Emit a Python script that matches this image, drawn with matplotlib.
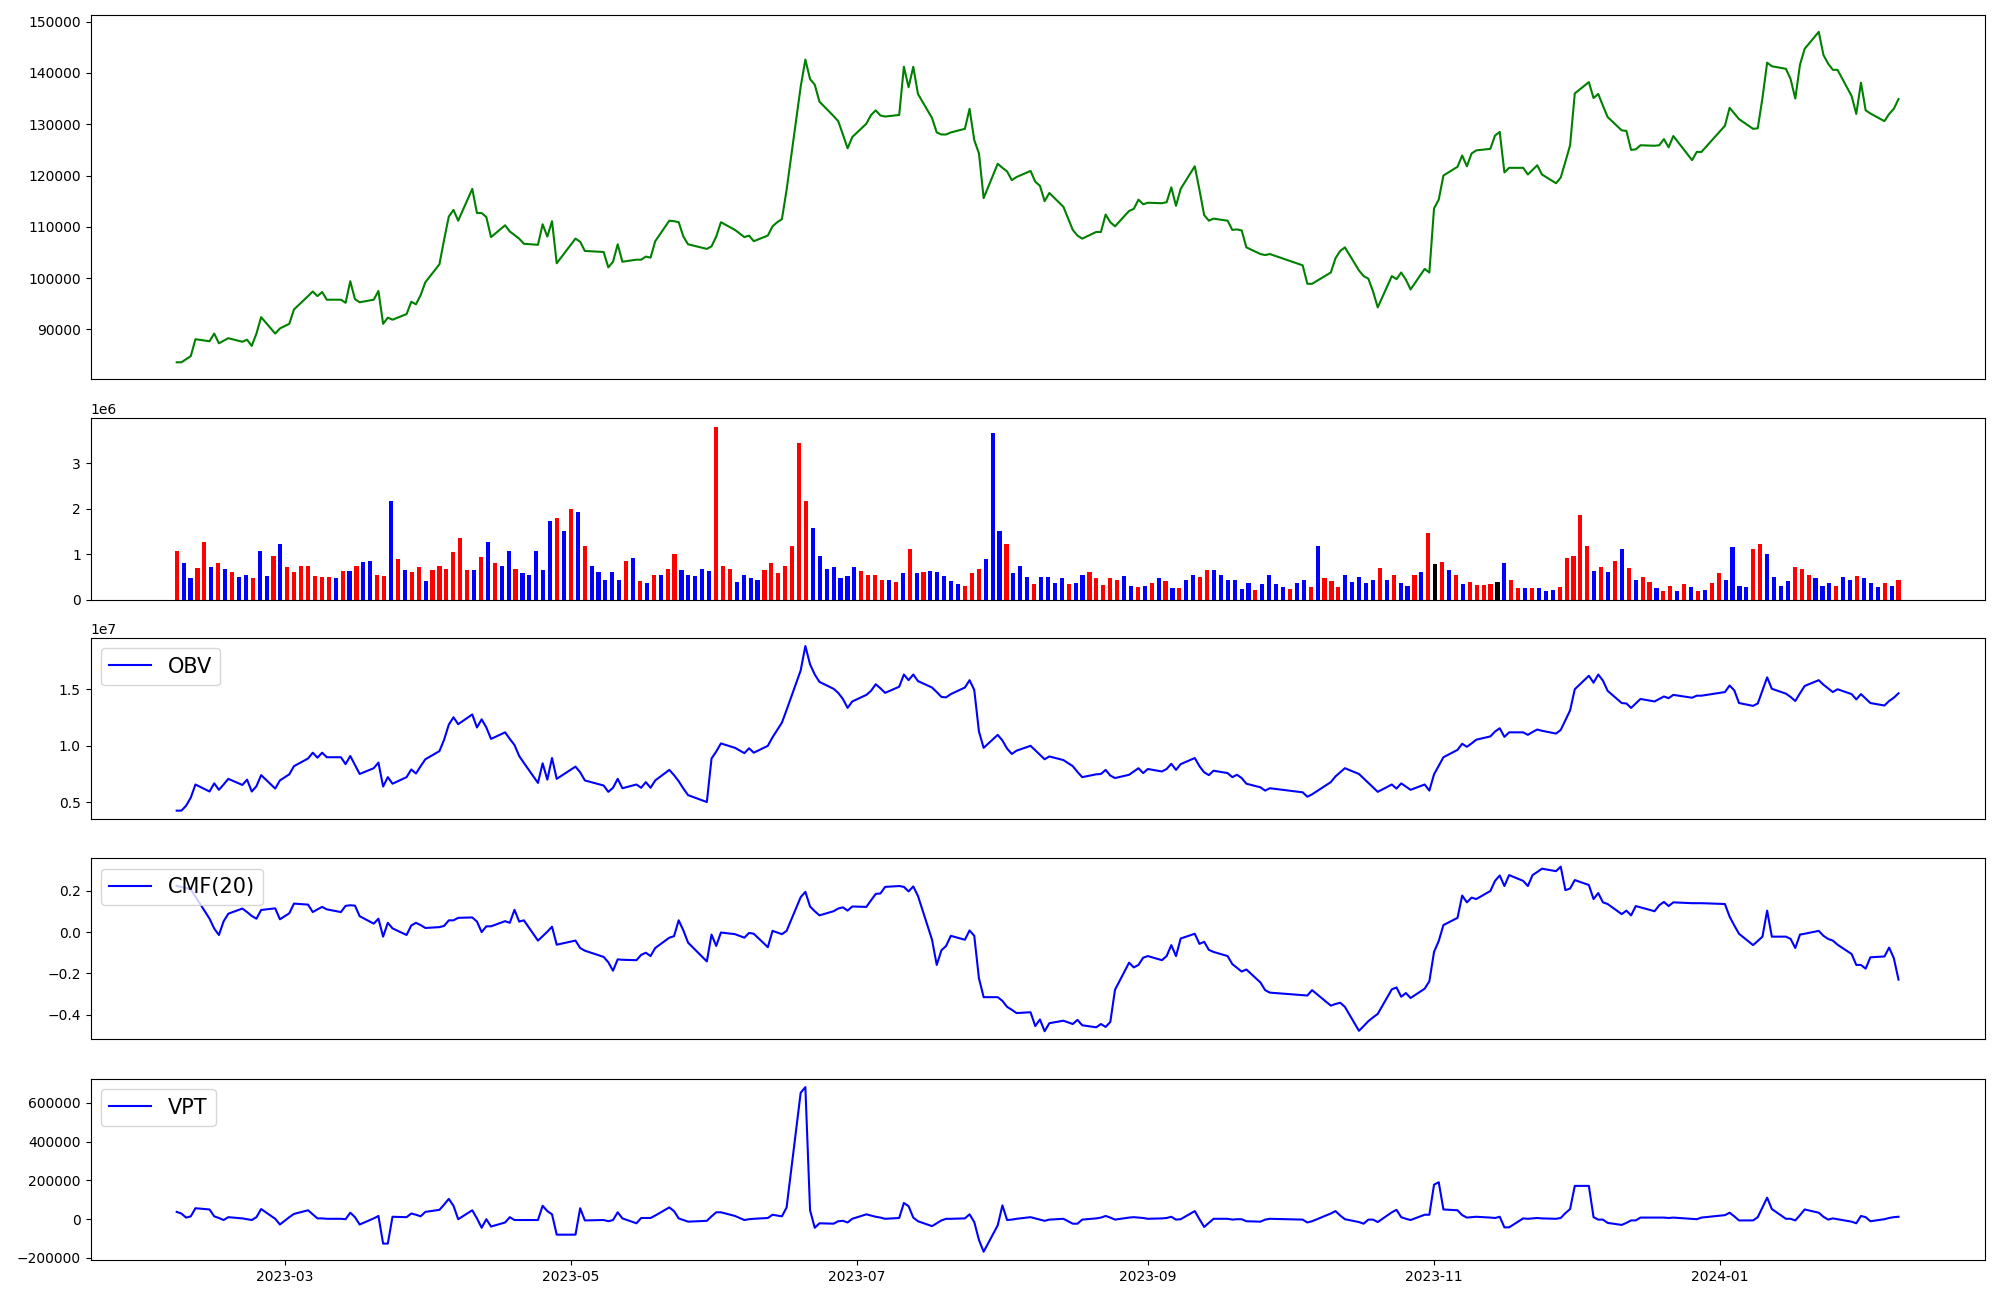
import numpy as np
import pandas as pd
import matplotlib
matplotlib.use("Agg")
import matplotlib.pyplot as plt
import matplotlib.dates as mdates

# ---------------- data ----------------
start_date = "2023-02-06"
end_date = "2024-02-08"
market_holidays = ["2023-03-01", "2023-05-01", "2023-05-05", "2023-05-29", "2023-06-06",
                   "2023-08-15", "2023-09-28", "2023-09-29", "2023-10-02", "2023-10-03",
                   "2023-10-09", "2023-12-25", "2023-12-29", "2024-01-01"]

close = [
    83600, 83600, 84200, 84800, 88100,
    87700, 89200, 87300, 87800, 88300,
    87600, 88000, 86800, 89200, 92400,
    89200, 90200, 91100, 93900,
    96500, 97400, 96500, 97300, 95800,
    95800, 95200, 99400, 95900, 95300,
    95800, 97500, 91100, 92300, 91900,
    93000, 95400, 94900, 96700, 99200,
    102700, 107500, 112000, 113300, 111200,
    117400, 112700, 112700, 111900, 108000,
    110300, 109100, 108400, 107700, 106700,
    106500, 110500, 108100, 111100, 102900,
    107700, 107100, 105300,
    105100, 102100, 103200, 106600, 103200,
    103600, 103600, 104200, 104000, 107200,
    111200, 111100, 110900, 108100, 106600,
    105700, 106200, 108100, 110900,
    109400, 108000, 108300, 107200,
    108300, 110100, 110900, 111500, 117200,
    137300, 142600, 138800, 137700, 134400,
    131600, 130600, 128000, 125300, 127500,
    130100, 131800, 132700, 131700, 131500,
    131800, 141200, 137200, 141200, 135900,
    131200, 128400, 128000, 128000, 128400,
    129100, 133000, 126900, 124300, 115600,
    122300, 121500, 120800, 119100, 119700,
    120900, 118800, 118000, 115000, 116600,
    113900, 109400, 108300, 107700,
    109000, 109000, 112400, 110900, 110100,
    113100, 113500, 115300, 114400, 114700,
    114600, 114800, 117700, 114100, 117400,
    121800, 117200, 112300, 111200, 111600,
    111200, 109400, 109500, 109300, 106000,
    104700, 104500, 104700,
    102500, 98900, 98900,
    101100, 103900, 105300, 106000,
    101500, 100400, 99900, 97400, 94300,
    100400, 99800, 101100, 99700, 97800,
    101800, 101100, 113600, 115300, 120000,
    121700, 123900, 121800, 124300, 124900,
    125200, 127800, 128500, 120600, 121500,
    121500, 120200, 121100, 122000, 120200,
    118500, 119600, 122700, 125900, 136000,
    138200, 135100, 135900, 133600, 131400,
    128800, 128700, 125000, 125100, 125900,
    125800, 125900, 127100, 125500, 127700,
    123000, 124600, 124600,
    129700, 133200, 132100, 131000,
    129100, 129200, 135100, 142000, 141300,
    140800, 138800, 135000, 141600, 144700,
    148000, 143500, 141800, 140600, 140600,
    135500, 132000, 138100, 132700, 132100,
    130600, 132000, 133000, 134900,
]

# volume in millions of shares
volume_m = [
    1.08, 0.80, 0.47, 0.69, 1.26, 0.71, 0.80, 0.67, 0.60, 0.49,
    0.55, 0.47, 1.08, 0.51, 0.97, 1.23, 0.71, 0.60, 0.75, 0.75,
    0.51, 0.49, 0.49, 0.47, 0.62, 0.62, 0.75, 0.82, 0.84, 0.55,
    0.51, 2.18, 0.89, 0.65, 0.60, 0.71, 0.40, 0.65, 0.75, 0.67,
    1.04, 1.35, 0.65, 0.65, 0.93, 1.26, 0.80, 0.73, 1.06, 0.67,
    0.58, 0.55, 1.06, 0.65, 1.74, 1.79, 1.52, 2.00, 1.94, 1.19,
    0.75, 0.60, 0.44, 0.60, 0.44, 0.84, 0.91, 0.40, 0.36, 0.54,
    0.55, 0.67, 1.01, 0.65, 0.54, 0.51, 0.67, 0.62, 3.80, 0.75,
    0.67, 0.39, 0.54, 0.47, 0.44, 0.65, 0.80, 0.58, 0.73, 1.17,
    3.45, 2.18, 1.58, 0.97, 0.67, 0.71, 0.47, 0.51, 0.71, 0.62,
    0.55, 0.54, 0.44, 0.43, 0.39, 0.58, 1.12, 0.58, 0.60, 0.62,
    0.60, 0.51, 0.40, 0.34, 0.29, 0.58, 0.67, 0.89, 3.67, 1.50,
    1.23, 0.58, 0.75, 0.49, 0.34, 0.49, 0.49, 0.36, 0.47, 0.34,
    0.36, 0.54, 0.60, 0.47, 0.32, 0.47, 0.44, 0.51, 0.29, 0.27,
    0.29, 0.36, 0.47, 0.40, 0.25, 0.25, 0.44, 0.54, 0.49, 0.65,
    0.65, 0.55, 0.44, 0.44, 0.23, 0.36, 0.21, 0.34, 0.54, 0.34,
    0.27, 0.23, 0.36, 0.44, 0.27, 1.19, 0.47, 0.40, 0.27, 0.55,
    0.39, 0.49, 0.36, 0.43, 0.69, 0.43, 0.55, 0.36, 0.29, 0.55,
    0.60, 1.46, 0.78, 0.82, 0.65, 0.55, 0.34, 0.39, 0.32, 0.32,
    0.34, 0.39, 0.80, 0.44, 0.25, 0.25, 0.25, 0.25, 0.18, 0.21,
    0.27, 0.91, 0.95, 1.87, 1.17, 0.62, 0.71, 0.60, 0.86, 1.12,
    0.69, 0.43, 0.49, 0.39, 0.25, 0.18, 0.29, 0.18, 0.34, 0.27,
    0.18, 0.21, 0.36, 0.58, 0.44, 1.15, 0.29, 0.27, 1.11, 1.22,
    1.01, 0.49, 0.29, 0.40, 0.71, 0.67, 0.55, 0.47, 0.29, 0.36,
    0.29, 0.49, 0.44, 0.51, 0.47, 0.36, 0.27, 0.36, 0.29, 0.43,
]

# u = up day (red), d = down day (blue), n = unchanged (black)
bar_direction = (
    "udduududud" "dudduduuuu" "uuudududdu" "ududuuduuu" "uuudududdu"
    "dddddududu" "dddddududu" "duuddddduu" "udddduuuuu" "uudddddddu"
    "uuudududud" "dddduuuddd" "uddduddddu" "dduuuuuddu" "dudududduu"
    "dddddduddd" "dudduduuud" "ddddududdu" "dunududuuu" "unduududdd"
    "uuuuududud" "uduuduudud" "uduudddduu" "dddduuuddd" "uddudddudu"
)

obv_e7 = [
    0.426, 0.426, 0.469, 0.541, 0.657,
    0.595, 0.667, 0.610, 0.657, 0.707,
    0.653, 0.700, 0.595, 0.642, 0.740,
    0.621, 0.693, 0.747, 0.819,
    0.887, 0.938, 0.894, 0.938, 0.898,
    0.898, 0.837, 0.909, 0.830, 0.750,
    0.801, 0.851, 0.639, 0.722, 0.664,
    0.722, 0.790, 0.754, 0.819, 0.880,
    0.952, 1.053, 1.186, 1.251, 1.190,
    1.276, 1.161, 1.233, 1.161, 1.060,
    1.118, 1.060, 1.006, 0.909, 0.848,
    0.671, 0.844, 0.700, 0.891, 0.707,
    0.815, 0.765, 0.693,
    0.648, 0.592, 0.628, 0.707, 0.624,
    0.657, 0.628, 0.678, 0.628, 0.693,
    0.786, 0.740, 0.686, 0.621, 0.563,
    0.502, 0.887, 0.948, 1.020,
    0.981, 0.934, 0.977, 0.938,
    0.999, 1.074, 1.139, 1.204, 1.316,
    1.665, 1.881, 1.719, 1.629, 1.564,
    1.503, 1.467, 1.413, 1.334, 1.391,
    1.449, 1.485, 1.543, 1.507, 1.467,
    1.521, 1.629, 1.579, 1.629, 1.571,
    1.514, 1.474, 1.431, 1.427, 1.456,
    1.514, 1.579, 1.492, 1.125, 0.981,
    1.096, 1.046, 0.974, 0.927, 0.956,
    0.999, 0.959, 0.920, 0.880, 0.905,
    0.873, 0.819, 0.768, 0.722,
    0.747, 0.750, 0.786, 0.736, 0.714,
    0.743, 0.772, 0.801, 0.758, 0.794,
    0.772, 0.794, 0.840, 0.786, 0.837,
    0.891, 0.819, 0.765, 0.740, 0.779,
    0.758, 0.722, 0.743, 0.714, 0.664,
    0.632, 0.603, 0.624,
    0.588, 0.549, 0.570,
    0.678, 0.729, 0.765, 0.801,
    0.750, 0.711, 0.671, 0.632, 0.592,
    0.657, 0.621, 0.667, 0.639, 0.610,
    0.657, 0.603, 0.747, 0.822, 0.898,
    0.963, 1.017, 0.990, 1.020, 1.053,
    1.082, 1.125, 1.154, 1.078, 1.118,
    1.118, 1.096, 1.121, 1.143, 1.132,
    1.107, 1.139, 1.226, 1.312, 1.499,
    1.618, 1.557, 1.629, 1.575, 1.485,
    1.377, 1.373, 1.334, 1.373, 1.413,
    1.391, 1.413, 1.435, 1.420, 1.449,
    1.424, 1.442, 1.442,
    1.474, 1.532, 1.489, 1.377,
    1.352, 1.373, 1.489, 1.604, 1.503,
    1.460, 1.431, 1.395, 1.463, 1.528,
    1.579, 1.539, 1.507, 1.474, 1.499,
    1.456, 1.409, 1.456, 1.417, 1.377,
    1.355, 1.395, 1.424, 1.463,
]

cmf20 = [
    0.224, 0.218, 0.213, 0.207, 0.172,
    0.065, 0.017, -0.014, 0.052, 0.089,
    0.114, 0.097, 0.078, 0.065, 0.107,
    0.115, 0.062, 0.091, 0.138,
    0.133, 0.097, 0.110, 0.122, 0.110,
    0.097, 0.127, 0.130, 0.128, 0.077,
    0.041, 0.065, -0.022, 0.045, 0.018,
    -0.014, 0.032, 0.045, 0.034, 0.020,
    0.024, 0.030, 0.057, 0.057, 0.069,
    0.071, 0.051, 0.000, 0.028, 0.028,
    0.053, 0.045, 0.108, 0.051, 0.057,
    -0.041, -0.020, 0.002, 0.026, -0.061,
    -0.041, -0.077, -0.090,
    -0.120, -0.146, -0.187, -0.132, -0.134,
    -0.136, -0.110, -0.100, -0.116, -0.077,
    -0.027, -0.020, 0.057, 0.008, -0.051,
    -0.142, -0.012, -0.067, -0.002,
    -0.010, -0.027, -0.004, -0.008,
    -0.073, 0.006, -0.002, -0.010, 0.006,
    0.169, 0.195, 0.124, 0.101, 0.081,
    0.101, 0.114, 0.120, 0.104, 0.124,
    0.122, 0.154, 0.185, 0.187, 0.219,
    0.223, 0.219, 0.197, 0.221, 0.175,
    -0.037, -0.159, -0.088, -0.067, -0.018,
    -0.037, 0.008, -0.018, -0.224, -0.315,
    -0.315, -0.333, -0.362, -0.376, -0.392,
    -0.388, -0.455, -0.423, -0.480, -0.441,
    -0.429, -0.445, -0.425, -0.451,
    -0.461, -0.445, -0.459, -0.435, -0.279,
    -0.148, -0.171, -0.159, -0.124, -0.116,
    -0.136, -0.116, -0.063, -0.116, -0.031,
    -0.008, -0.057, -0.047, -0.086, -0.096,
    -0.116, -0.155, -0.173, -0.191, -0.181,
    -0.244, -0.281, -0.293,
    -0.305, -0.307, -0.281,
    -0.356, -0.348, -0.342, -0.362,
    -0.478, -0.455, -0.431, -0.413, -0.396,
    -0.277, -0.268, -0.313, -0.295, -0.319,
    -0.274, -0.238, -0.096, -0.043, 0.034,
    0.069, 0.177, 0.144, 0.167, 0.160,
    0.199, 0.248, 0.274, 0.223, 0.276,
    0.248, 0.223, 0.276, 0.291, 0.307,
    0.295, 0.317, 0.203, 0.211, 0.252,
    0.228, 0.160, 0.189, 0.144, 0.136,
    0.087, 0.104, 0.081, 0.126, 0.120,
    0.101, 0.130, 0.146, 0.126, 0.144,
    0.140, 0.140, 0.140,
    0.136, 0.075, 0.032, -0.008,
    -0.063, -0.043, -0.022, 0.104, -0.022,
    -0.022, -0.033, -0.077, -0.012, -0.008,
    0.006, -0.018, -0.033, -0.041, -0.061,
    -0.106, -0.159, -0.159, -0.177, -0.122,
    -0.118, -0.075, -0.126, -0.230,
]

vpt = [
    37000, 28700, 7700, 14000, 56000,
    49700, 14000, 5600, -4900, 9800,
    3500, -700, -4900, 9800, 51800,
    1400, -28100, 9800, 26600,
    45500, 24500, 3500, 3500, 1400,
    1400, -700, 32900, 9800, -28100,
    3500, 16100, -126800, -126800, 11900,
    9800, 28700, 22400, 14000, 37100,
    47600, 74900, 104300, 68600, -700,
    45500, 3500, -44900, -700, -38600,
    -17600, 9800, -4900, -4900, -4900,
    -4900, 68600, 41300, 24500, -80600,
    -80600, 56000, -7000,
    -4900, -11200, -4900, 35000, 3500,
    -21800, 5600, 5600, 5600, 18200,
    60200, 41300, 3500, -4900, -13400,
    -9100, 14000, 35000, 35000,
    16100, -4900, -700, 1400,
    5600, 22400, 18200, 14000, 60200,
    652700, 682100, 45500, -44900, -21800,
    -23900, -11200, -9100, -17600, 1400,
    24500, 18200, 11900, 7700, 1400,
    5600, 83300, 66500, 7700, -11200,
    -36500, -21800, -7000, 1400, 1400,
    3500, 24500, -15500, -107900, -168800,
    -32300, 70700, -4900, -2800, 1400,
    9800, 3500, -2800, -9100, -2800,
    1400, -23900, -23900, -2800,
    3500, 7700, 16100, 7700, -2800,
    7700, 9800, 7700, 5600, 1400,
    3500, 5600, 11900, -2800, -700,
    41300, -700, -40700, -19700, 1400,
    1400, -2800, -700, -700, -11200,
    -13400, -2800, 1400,
    -2800, -17600, -11200,
    28700, 41300, 18200, -700,
    -15500, -23900, -2800, -2800, -15500,
    35000, 47600, 9800, 1400, -4900,
    22400, 22400, 177800, 190400, 49700,
    45500, 20300, 7700, 9800, 11900,
    7700, 5600, 11900, -42800, -42800,
    3500, 1400, 3500, 5600, 3500,
    1400, 5600, 30800, 51800, 171500,
    171500, 9800, -2800, -2800, -19700,
    -30200, -19700, -7000, -7000, 7700,
    7700, 7700, 7700, 5600, 7700,
    1400, -700, 7700,
    20300, 32900, 14000, -7000,
    -7000, 9800, 60200, 110600, 51800,
    1400, 1400, -7000, 20300, 49700,
    32900, 11900, -2800, 3500, -700,
    -13400, -21800, 16100, 9800, -11200,
    -700, 5600, 9800, 11900,
]

# ---------------- build ----------------
dates = pd.bdate_range(start_date, end_date)
dates = dates[~dates.isin(pd.to_datetime(market_holidays))]
n = len(dates)

direction_colors = {"u": "red", "d": "blue", "n": "black"}
bar_colors = [direction_colors[c] for c in bar_direction]

fig = plt.figure(figsize=(20, 13), dpi=100)
left, width = 0.0453, 0.947
ax1 = fig.add_axes([left, 0.7086, width, 0.2796])
ax2 = fig.add_axes([left, 0.5388, width, 0.1393])
ax3 = fig.add_axes([left, 0.3701, width, 0.1393])
ax4 = fig.add_axes([left, 0.2004, width, 0.1393])
ax5 = fig.add_axes([left, 0.0308, width, 0.1393])

ax1.plot(dates, close, color="green", linewidth=1.5)
ax1.set_xticks([])

idx = np.arange(n)
ax2.bar(idx, np.array(volume_m) * 1e6, color=bar_colors, width=0.6)
ax2.set_xlim(-0.05 * (n - 1), (n - 1) * 1.05)
ax2.set_xticks([])

ax3.plot(dates, np.array(obv_e7) * 1e7, color="blue", label="OBV")
ax3.legend(loc="upper left", fontsize=15)
ax3.set_xticks([])

ax4.plot(dates, cmf20, color="blue", label="CMF(20)")
ax4.legend(loc="upper left", fontsize=15)
ax4.set_xticks([])

ax5.plot(dates, vpt, color="blue", label="VPT")
ax5.legend(loc="upper left", fontsize=15)
ax5.xaxis.set_major_locator(mdates.MonthLocator(bymonth=[1, 3, 5, 7, 9, 11]))
ax5.xaxis.set_major_formatter(mdates.DateFormatter("%Y-%m"))

fig.savefig("out.png", dpi=100)
